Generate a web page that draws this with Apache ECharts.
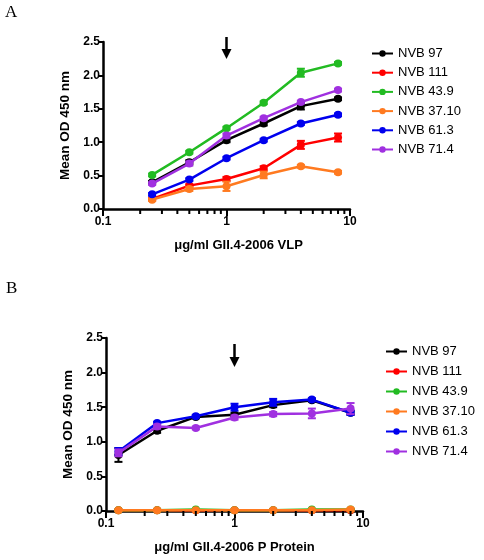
<!DOCTYPE html>
<html><head><meta charset="utf-8">
<script src="https://cdn.jsdelivr.net/npm/echarts@6/dist/echarts.min.js"></script>
<style>html,body{margin:0;padding:0;background:#fff}#c{width:484px;height:560px}</style>
</head><body><div id="c"></div>
<script>
// ---------- data ----------
const seriesNames = ['NVB 97','NVB 111','NVB 43.9','NVB 37.10','NVB 61.3','NVB 71.4'];
const seriesColors = ['#000000','#ff0000','#22bb22','#ff7a20','#0000ee','#a030e0'];

// Panel A: VLP concentrations (µg/ml)
const concA = [0.25, 0.5, 1, 2, 4, 8];
const a_nvb97   = [0.40, 0.70, 1.03, 1.28, 1.54, 1.65];
const a_nvb111  = [0.15, 0.35, 0.45, 0.61, 0.96, 1.07];
const a_nvb43_9 = [0.51, 0.85, 1.21, 1.59, 2.04, 2.18];
const a_nvb37_10= [0.14, 0.30, 0.34, 0.51, 0.64, 0.55];
const a_nvb61_3 = [0.22, 0.44, 0.76, 1.03, 1.28, 1.41];
const a_nvb71_4 = [0.38, 0.68, 1.10, 1.36, 1.60, 1.78];
const a_err97   = [0.02, 0.03, 0.03, 0.03, 0.05, 0.02];
const a_err111  = [0.02, 0.02, 0.03, 0.03, 0.06, 0.06];
const a_err43_9 = [0.02, 0.02, 0.02, 0.02, 0.06, 0.02];
const a_err37_10= [0.02, 0.03, 0.07, 0.05, 0.02, 0.02];
const a_err61_3 = [0.02, 0.02, 0.02, 0.02, 0.02, 0.02];
const a_err71_4 = [0.02, 0.03, 0.03, 0.02, 0.02, 0.02];

// Panel B: P protein concentrations (µg/ml)
const concB = [0.125, 0.25, 0.5, 1, 2, 4, 8];
const b_nvb97   = [0.81, 1.16, 1.36, 1.39, 1.53, 1.60, 1.42];
const b_nvb111  = [0.01, 0.01, 0.01, 0.01, 0.01, 0.01, 0.01];
const b_nvb43_9 = [0.01, 0.01, 0.02, 0.01, 0.01, 0.02, 0.02];
const b_nvb37_10= [0.01, 0.01, 0.01, 0.01, 0.01, 0.01, 0.02];
const b_nvb61_3 = [0.86, 1.27, 1.37, 1.50, 1.57, 1.61, 1.42];
const b_nvb71_4 = [0.84, 1.22, 1.20, 1.35, 1.40, 1.41, 1.48];
const b_err97   = [0.10, 0.03, 0.02, 0.03, 0.03, 0.02, 0.03];
const b_err111  = [0.01, 0.01, 0.01, 0.01, 0.01, 0.01, 0.01];
const b_err43_9 = [0.01, 0.01, 0.01, 0.01, 0.01, 0.01, 0.01];
const b_err37_10= [0.01, 0.01, 0.01, 0.01, 0.01, 0.01, 0.02];
const b_err61_3 = [0.05, 0.02, 0.02, 0.05, 0.05, 0.02, 0.03];
const b_err71_4 = [0.05, 0.03, 0.02, 0.03, 0.03, 0.07, 0.08];

const yTicks = [0, 0.5, 1.0, 1.5, 2.0, 2.5];
const xMajorTicks = [0.1, 1, 10];
const xMinorTicks = [0.2,0.3,0.4,0.5,0.6,0.7,0.8,0.9,2,3,4,5,6,7,8,9];
const xTitleA = 'μg/ml GII.4-2006 VLP';
const xTitleB = 'μg/ml GII.4-2006 P Protein';
const yTitle = 'Mean OD 450 nm';
const arrowAt = 1;

const valsA = [a_nvb97,a_nvb111,a_nvb43_9,a_nvb37_10,a_nvb61_3,a_nvb71_4];
const errsA = [a_err97,a_err111,a_err43_9,a_err37_10,a_err61_3,a_err71_4];
const valsB = [b_nvb97,b_nvb111,b_nvb43_9,b_nvb37_10,b_nvb61_3,b_nvb71_4];
const errsB = [b_err97,b_err111,b_err43_9,b_err37_10,b_err61_3,b_err71_4];

// ---------- chart ----------
const FONT = 'Liberation Sans, Arial, sans-serif';
const chart = echarts.init(document.getElementById('c'), null, {renderer:'canvas'});

function xAxisDef(gi, title, padLeft){
  return {
    type:'log', logBase:10, gridIndex:gi, min:0.1, max:10,
    name:title, nameLocation:'middle', nameGap:30,
    nameTextStyle:{fontFamily:FONT, fontWeight:'bold', fontSize:13, color:'#000', padding:[0,0,0,padLeft]},
    axisLine:{lineStyle:{color:'#000', width:2.5}},
    axisTick:{show:true, length:7, inside:false, lineStyle:{color:'#000', width:2}},
    minorTick:{show:false},
    splitLine:{show:false},
    axisLabel:{fontFamily:FONT, fontWeight:'bold', fontSize:12, color:'#000', margin:7,
      formatter:v=>{ const m = xMajorTicks.find(t=>Math.abs(t-v)<1e-9); return m===undefined?'':String(m);} }
  };
}
function yAxisDef(gi){
  return {
    type:'value', gridIndex:gi, min:yTicks[0], max:yTicks[yTicks.length-1], interval:0.5,
    name:yTitle, nameLocation:'middle', nameGap:27,
    nameTextStyle:{fontFamily:FONT, fontWeight:'bold', fontSize:13.5, color:'#000'},
    axisLine:{show:true, lineStyle:{color:'#000', width:2.5}},
    axisTick:{show:true, length:5, lineStyle:{color:'#000', width:2}},
    splitLine:{show:false},
    axisLabel:{fontFamily:FONT, fontWeight:'bold', fontSize:12, color:'#000', margin:3,
      formatter:v=>v.toFixed(1)}
  };
}

const series = [];
function addPanel(gi, conc, vals, errs){
  vals.forEach((arr,i)=>{
    series.push({
      type:'line', name:seriesNames[i], xAxisIndex:gi, yAxisIndex:gi,
      data:conc.map((x,k)=>[x,arr[k]]),
      color:seriesColors[i],
      lineStyle:{width:2.5, color:seriesColors[i]},
      itemStyle:{color:seriesColors[i]},
      symbol:'circle', symbolSize:8, showSymbol:true, z:3+i, animation:false
    });
    series.push({
      type:'custom', name:seriesNames[i], xAxisIndex:gi, yAxisIndex:gi,
      data:conc.map((x,k)=>[x,arr[k],errs[i][k]]),
      z:3+i, animation:false, silent:true,
      renderItem:(params, api)=>{
        const x = api.value(0), y = api.value(1), e = api.value(2);
        const top = api.coord([x, y+e]), bot = api.coord([x, y-e]);
        const c = seriesColors[i];
        const w = 4;
        return {type:'group', children:[
          {type:'line', shape:{x1:top[0],y1:top[1],x2:bot[0],y2:bot[1]}, style:{stroke:c, lineWidth:2}},
          {type:'line', shape:{x1:top[0]-w,y1:top[1],x2:top[0]+w,y2:top[1]}, style:{stroke:c, lineWidth:2}},
          {type:'line', shape:{x1:bot[0]-w,y1:bot[1],x2:bot[0]+w,y2:bot[1]}, style:{stroke:c, lineWidth:2}}
        ]};
      }
    });
  });
  // minor ticks on log x axis
  series.push({
    type:'custom', xAxisIndex:gi, yAxisIndex:gi, silent:true, animation:false, clip:false, z:10,
    data:xMinorTicks.map(v=>[v,0]),
    renderItem:(params, api)=>{
      const p = api.coord([api.value(0), 0]);
      return {type:'line', shape:{x1:p[0],y1:p[1],x2:p[0],y2:p[1]+5}, style:{stroke:'#000', lineWidth:2}};
    }
  });
}
addPanel(0, concA, valsA, errsA);
addPanel(1, concB, valsB, errsB);

chart.setOption({
  animation:false,
  backgroundColor:'#fff',
  grid:[
    {left:103, right:134, top:42, bottom:351},
    {left:106, right:121, top:338, bottom:49}
  ],
  xAxis:[xAxisDef(0, xTitleA, 24), xAxisDef(1, xTitleB, 0)],
  yAxis:[yAxisDef(0), yAxisDef(1)],
  legend:[
    {orient:'vertical', left:366, top:42, itemGap:6.2, itemWidth:21, itemHeight:8,
     data:seriesNames, selectedMode:false, textStyle:{fontFamily:FONT, fontSize:13, color:'#000'}},
    {orient:'vertical', left:380, top:340, itemGap:7, itemWidth:21, itemHeight:8,
     data:seriesNames, selectedMode:false, textStyle:{fontFamily:FONT, fontSize:13, color:'#000'}}
  ],
  series:series
});

// panel labels and arrows
const pA = chart.convertToPixel({xAxisIndex:0, yAxisIndex:0}, [arrowAt, 2.5]);
const pB = chart.convertToPixel({xAxisIndex:1, yAxisIndex:1}, [arrowAt, 2.5]);
function arrow(x, y0, y1){
  return {type:'group', children:[
    {type:'line', shape:{x1:x, y1:y0, x2:x, y2:y1-8}, style:{stroke:'#000', lineWidth:2.5}},
    {type:'polygon', shape:{points:[[x-5,y1-10],[x+5,y1-10],[x,y1]]}, style:{fill:'#000'}}
  ]};
}
chart.setOption({
  graphic:[
    {type:'text', left:5, top:4, style:{text:'A', font:'17px "Liberation Serif", "DejaVu Serif", serif', fill:'#000'}},
    {type:'text', left:6, top:280, style:{text:'B', font:'17px "Liberation Serif", "DejaVu Serif", serif', fill:'#000'}},
    arrow(pA[0], 37, 59),
    arrow(pB[0], 344, 367)
  ]
});
</script>
</body></html>
